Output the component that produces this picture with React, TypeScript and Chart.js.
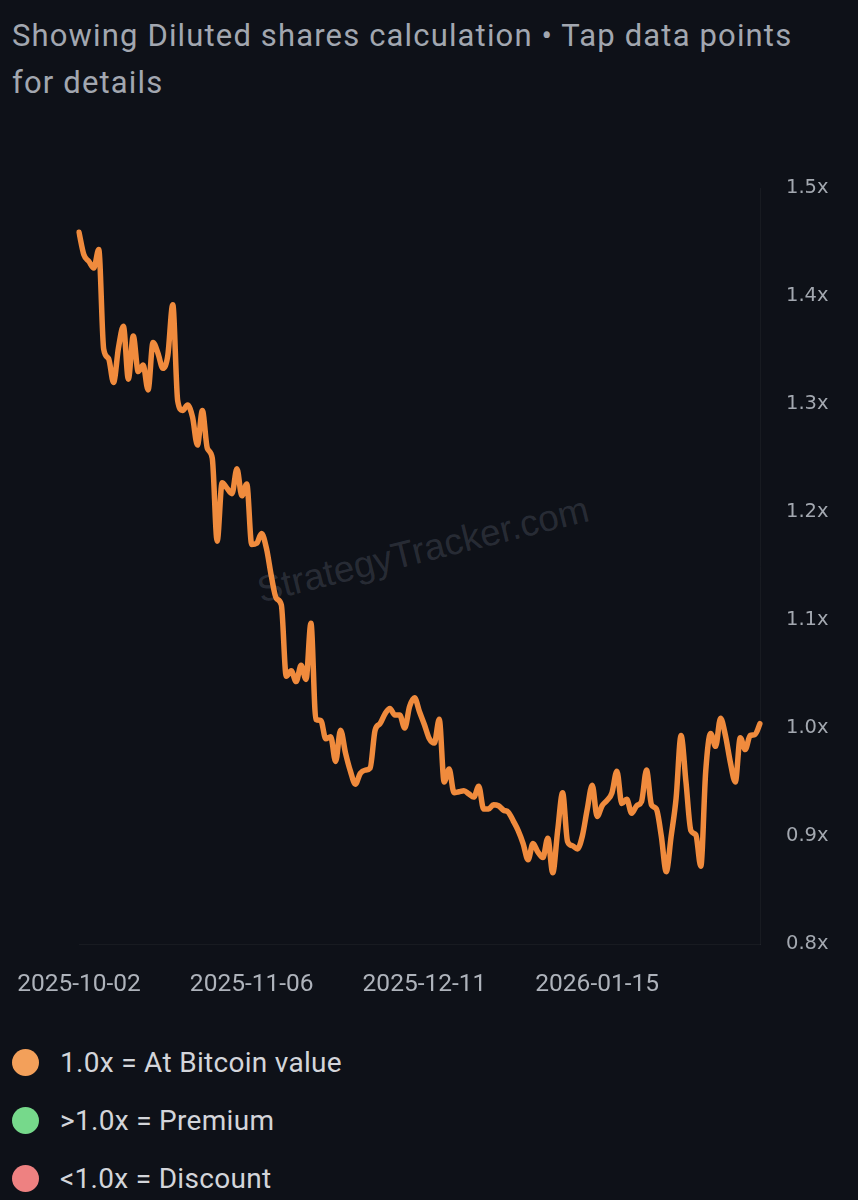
import React, { useEffect, useRef } from 'react';
import { Chart, registerables } from 'chart.js';

Chart.register(...registerables);

// ---- data ----
const START_DATE = '2025-10-02';
const TICK_DATES = ['2025-10-02', '2025-11-06', '2025-12-11', '2026-01-15'];
const Y_MIN = 0.8;
const Y_MAX = 1.5;
const Y_STEP = 0.1;

const RATIO = [
  1.459, 1.438, 1.432, 1.426, 1.443, 1.351, 1.342, 1.320, 1.352, 1.372,
  1.323, 1.363, 1.330, 1.336, 1.313, 1.357, 1.347, 1.333, 1.345, 1.392,
  1.303, 1.294, 1.299, 1.288, 1.262, 1.294, 1.259, 1.250, 1.173, 1.227,
  1.222, 1.217, 1.240, 1.215, 1.226, 1.170, 1.171, 1.180, 1.166, 1.140,
  1.120, 1.114, 1.048, 1.053, 1.043, 1.058, 1.045, 1.097, 1.008, 1.007,
  0.990, 0.992, 0.969, 0.998, 0.977, 0.960, 0.948, 0.958, 0.961, 0.963,
  0.998, 1.004, 1.013, 1.018, 1.012, 1.012, 1.000, 1.020, 1.028, 1.015,
  1.003, 0.990, 0.986, 1.008, 0.950, 0.962, 0.940, 0.941, 0.942, 0.939,
  0.936, 0.946, 0.925, 0.925, 0.929, 0.928, 0.924, 0.922, 0.914, 0.905,
  0.893, 0.878, 0.893, 0.885, 0.880, 0.898, 0.866, 0.905, 0.940, 0.895,
  0.891, 0.888, 0.900, 0.925, 0.947, 0.918, 0.928, 0.933, 0.940, 0.960,
  0.930, 0.934, 0.921, 0.928, 0.932, 0.961, 0.929, 0.925, 0.900, 0.867,
  0.900, 0.935, 0.993, 0.950, 0.905, 0.901, 0.872, 0.960, 0.995, 0.983,
  1.009, 0.993, 0.968, 0.950, 0.991, 0.980, 0.993, 0.994, 1.004,
];

const LEGEND_TEXT = ['1.0x = At Bitcoin value', '>1.0x = Premium', '<1.0x = Discount'];
const LEGEND_COLORS = ['#f3a05a', '#76d98b', '#ee8181'];

const TITLE_LINES = ['Showing Diluted shares calculation \u2022 Tap data points', 'for details'];
const WATERMARK = 'StrategyTracker.com';

function buildDates(start: string, n: number): string[] {
  const [y, m, d] = start.split('-').map(Number);
  const base = Date.UTC(y, m - 1, d);
  const out: string[] = [];
  for (let i = 0; i < n; i++) {
    const dt = new Date(base + i * 86400000);
    out.push(dt.toISOString().slice(0, 10));
  }
  return out;
}

const DATES = buildDates(START_DATE, RATIO.length);

// ---- styles ----
const BG = '#0e1118';

export default function App() {
  const canvasRef = useRef<HTMLCanvasElement | null>(null);

  useEffect(() => {
    document.body.style.margin = '0';
    document.body.style.background = BG;
    const canvas = canvasRef.current;
    if (!canvas) return;
    const chart = new Chart(canvas, {
      type: 'line',
      data: {
        labels: DATES,
        datasets: [
          {
            data: RATIO,
            borderColor: '#f08b3d',
            borderWidth: 5.5,
            pointRadius: 0,
            pointHoverRadius: 0,
            cubicInterpolationMode: 'monotone',
            fill: false,
            borderCapStyle: 'round',
            borderJoinStyle: 'round',
          },
        ],
      },
      options: {
        animation: false,
        responsive: false,
        maintainAspectRatio: false,
        layout: { padding: { left: 79, right: 0, top: 36, bottom: 0 } },
        plugins: { legend: { display: false }, tooltip: { enabled: false } },
        scales: {
          x: {
            type: 'category',
            grid: { display: false, drawTicks: false },
            border: { display: true, color: 'rgba(255,255,255,0.045)', width: 1 },
            ticks: {
              autoSkip: false,
              maxRotation: 0,
              minRotation: 0,
              padding: 26,
              color: '#aeb3bb',
              font: { family: 'Roboto', size: 24.5 },
              callback: function (_v: any, i: number) {
                const l = DATES[i];
                return TICK_DATES.includes(l) ? l : null;
              },
            },
            afterFit: (s: any) => {
              s.height = 78;
              s.paddingLeft = 0;
              s.paddingRight = 0;
            },
          },
          y: {
            position: 'right',
            min: Y_MIN,
            max: Y_MAX,
            grid: { display: false, drawTicks: false },
            border: { display: true, color: 'rgba(255,255,255,0.045)', width: 1 },
            ticks: {
              stepSize: Y_STEP,
              padding: 26,
              color: '#a3a8b0',
              font: { family: '"DejaVu Sans"', size: 19.5 },
              callback: (v: any) => Number(v).toFixed(1) + 'x',
            },
            afterFit: (s: any) => {
              s.width = 98;
              s.paddingTop = 0;
              s.paddingBottom = 0;
            },
          },
        },
      },
    } as any);
    return () => chart.destroy();
  }, []);

  return (
    <div
      style={{
        position: 'relative',
        width: 858,
        height: 1200,
        background: BG,
        overflow: 'hidden',
        fontFamily: 'Roboto, sans-serif',
      }}
    >
      <div
        style={{
          position: 'absolute',
          left: 12,
          top: 12,
          fontSize: 31,
          letterSpacing: '1.15px',
          lineHeight: '47px',
          color: '#a2a7b0',
          whiteSpace: 'nowrap',
        }}
      >
        {TITLE_LINES.map((l) => (
          <div key={l}>{l}</div>
        ))}
      </div>

      <div
        style={{
          position: 'absolute',
          left: 423,
          top: 550,
          transform: 'translate(-50%, -50%) rotate(-14deg)',
          whiteSpace: 'nowrap',
          fontFamily: '"Liberation Sans", Arial, sans-serif',
          fontSize: 37,
          color: 'rgba(150,160,178,0.2)',
        }}
      >
        {WATERMARK}
      </div>

      <canvas
        ref={canvasRef}
        width={858}
        height={870}
        style={{ position: 'absolute', left: 0, top: 152, width: 858, height: 870 }}
      />

      {LEGEND_TEXT.map((t, i) => (
        <div
          key={t}
          style={{
            position: 'absolute',
            left: 0,
            top: 1062 + i * 58 - 20,
            height: 40,
            display: 'flex',
            alignItems: 'center',
          }}
        >
          <span
            style={{
              display: 'inline-block',
              marginLeft: 12,
              width: 27,
              height: 27,
              borderRadius: '50%',
              background: LEGEND_COLORS[i],
            }}
          />
          <span
            style={{
              marginLeft: 21,
              fontSize: 28,
              letterSpacing: '0.3px',
              color: '#d3d5da',
              whiteSpace: 'nowrap',
            }}
          >
            {t}
          </span>
        </div>
      ))}
    </div>
  );
}
